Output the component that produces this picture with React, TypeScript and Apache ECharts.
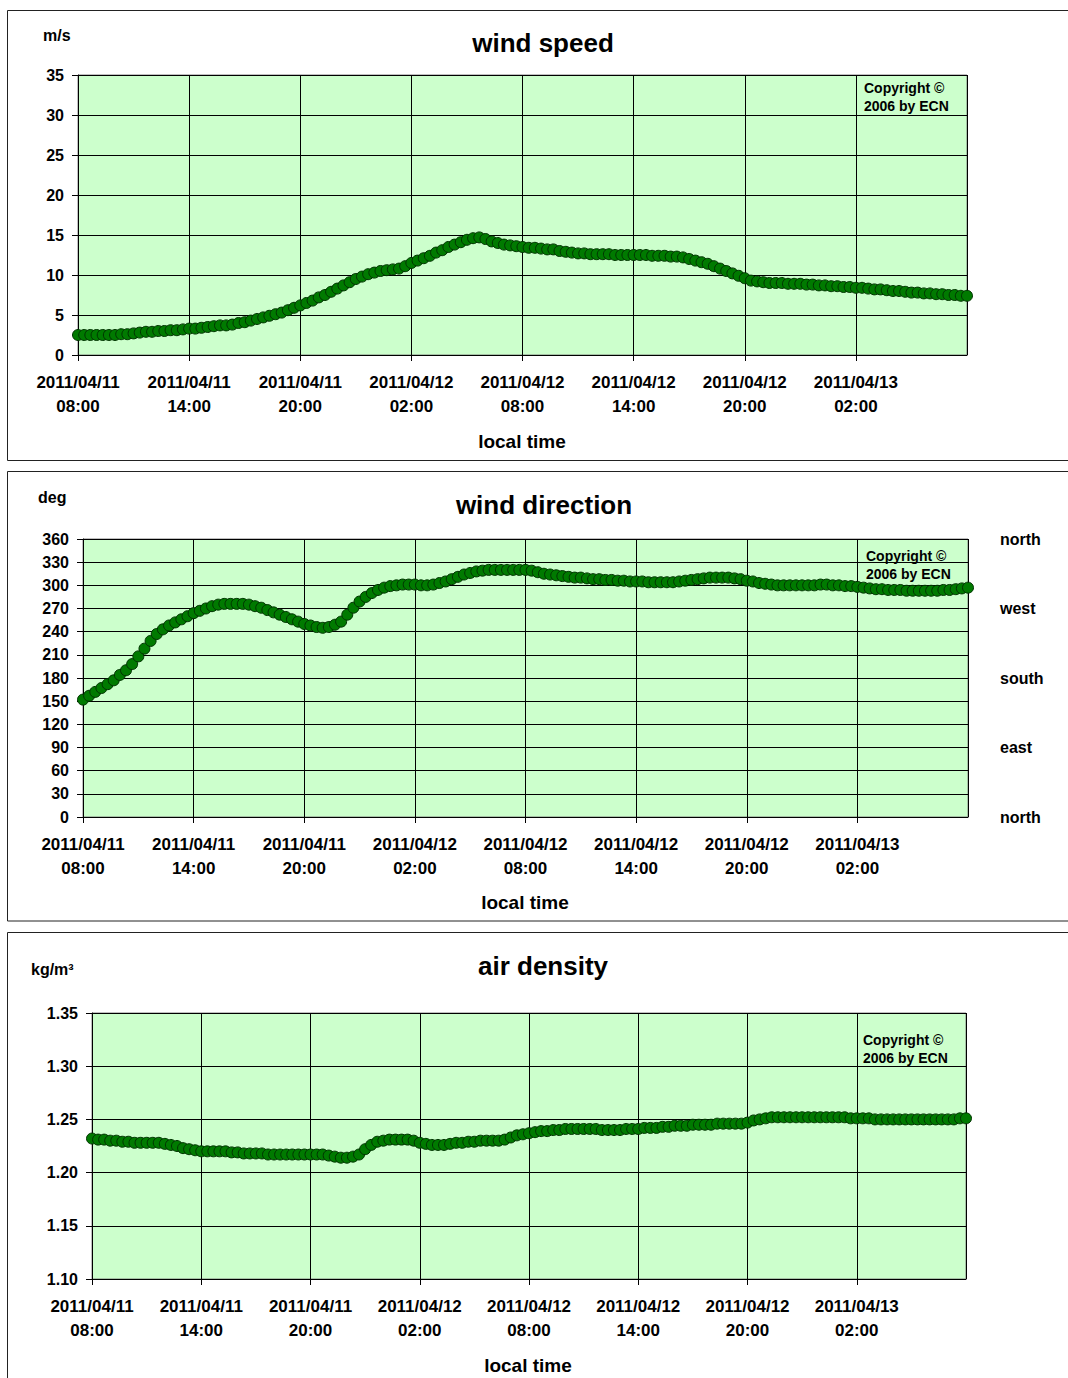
import React, { useEffect, useRef } from "react";
import * as echarts from "echarts";

// time axis: 2011/04/11 08:00 .. 2011/04/13 08:00, hours since start, samples every 20 minutes
const STEP_HOURS = 1 / 3;
const timeTickLabels = [
  "2011/04/11\n08:00",
  "2011/04/11\n14:00",
  "2011/04/11\n20:00",
  "2011/04/12\n02:00",
  "2011/04/12\n08:00",
  "2011/04/12\n14:00",
  "2011/04/12\n20:00",
  "2011/04/13\n02:00",
];

// wind speed, m/s
const windSpeed = [
  2.5, 2.5, 2.5,
  2.5, 2.5, 2.5,
  2.5, 2.6, 2.6,
  2.7, 2.8, 2.9,
  2.9, 3.0, 3.0,
  3.1, 3.1, 3.2,
  3.3, 3.3, 3.4,
  3.5, 3.6, 3.7,
  3.7, 3.8, 4.0,
  4.1, 4.3, 4.5,
  4.7, 4.9, 5.1,
  5.3, 5.6, 5.9,
  6.2, 6.5, 6.8,
  7.2, 7.5, 7.9,
  8.3, 8.7, 9.1,
  9.5, 9.8, 10.1,
  10.3, 10.5, 10.6,
  10.7, 10.8, 11.1,
  11.5, 11.8, 12.1,
  12.4, 12.8, 13.1,
  13.5, 13.8, 14.1,
  14.4, 14.6, 14.7,
  14.5, 14.2, 14.0,
  13.8, 13.7, 13.6,
  13.5, 13.4, 13.4,
  13.3, 13.2, 13.2,
  13.0, 12.9, 12.8,
  12.7, 12.7, 12.6,
  12.6, 12.6, 12.6,
  12.5, 12.5, 12.5,
  12.5, 12.5, 12.5,
  12.4, 12.4, 12.4,
  12.3, 12.3, 12.2,
  12.0, 11.8, 11.6,
  11.4, 11.1, 10.8,
  10.5, 10.2, 9.9,
  9.6, 9.3, 9.2,
  9.1, 9.0, 9.0,
  9.0, 8.9, 8.9,
  8.9, 8.8, 8.8,
  8.7, 8.7, 8.6,
  8.6, 8.5, 8.5,
  8.4, 8.4, 8.3,
  8.2, 8.2, 8.1,
  8.0, 8.0, 7.9,
  7.8, 7.8, 7.7,
  7.7, 7.6, 7.6,
  7.5, 7.5, 7.4,
  7.4,
];

// wind direction, deg
const windDirection = [
  152, 157, 162,
  167, 172, 177,
  184, 190, 198,
  208, 218, 228,
  237, 243, 248,
  252, 256, 260,
  264, 267, 270,
  273, 275, 276,
  276, 276, 276,
  275, 273, 271,
  268, 265, 262,
  259, 256, 253,
  250, 248, 246,
  245, 246, 249,
  253, 262, 271,
  279, 285, 290,
  294, 297, 299,
  300, 301, 301,
  301, 300, 300,
  301, 303, 305,
  308, 311, 314,
  316, 318, 319,
  320, 320, 320,
  320, 320, 320,
  320, 319, 317,
  315, 314, 313,
  312, 311, 310,
  310, 309, 308,
  308, 307, 307,
  306, 306, 305,
  305, 305, 304,
  304, 304, 304,
  304, 305, 306,
  307, 308, 309,
  310, 310, 310,
  310, 309, 308,
  306, 305, 303,
  302, 301, 300,
  300, 300, 300,
  300, 300, 300,
  301, 301, 300,
  300, 299, 299,
  298, 297, 296,
  295, 295, 294,
  294, 294, 293,
  293, 293, 293,
  293, 293, 294,
  294, 295, 296,
  297,
];

// air density, kg/m3
const airDensity = [
  1.232, 1.231, 1.231,
  1.230, 1.230, 1.229,
  1.229, 1.228, 1.228,
  1.228, 1.228, 1.228,
  1.227, 1.226, 1.225,
  1.223, 1.222, 1.221,
  1.220, 1.220, 1.220,
  1.220, 1.220, 1.219,
  1.219, 1.218, 1.218,
  1.218, 1.218, 1.217,
  1.217, 1.217, 1.217,
  1.217, 1.217, 1.217,
  1.217, 1.217, 1.217,
  1.216, 1.215, 1.214,
  1.214, 1.215, 1.217,
  1.222, 1.226, 1.229,
  1.230, 1.231, 1.231,
  1.231, 1.231, 1.230,
  1.228, 1.227, 1.226,
  1.226, 1.226, 1.227,
  1.228, 1.228, 1.229,
  1.229, 1.230, 1.230,
  1.230, 1.230, 1.231,
  1.233, 1.235, 1.236,
  1.237, 1.238, 1.239,
  1.239, 1.240, 1.240,
  1.241, 1.241, 1.241,
  1.241, 1.241, 1.241,
  1.240, 1.240, 1.240,
  1.240, 1.241, 1.241,
  1.241, 1.242, 1.242,
  1.242, 1.243, 1.243,
  1.244, 1.244, 1.244,
  1.245, 1.245, 1.245,
  1.245, 1.246, 1.246,
  1.246, 1.246, 1.246,
  1.247, 1.249, 1.250,
  1.251, 1.252, 1.252,
  1.252, 1.252, 1.252,
  1.252, 1.252, 1.252,
  1.252, 1.252, 1.252,
  1.252, 1.252, 1.251,
  1.251, 1.251, 1.251,
  1.250, 1.250, 1.250,
  1.250, 1.250, 1.250,
  1.250, 1.250, 1.250,
  1.250, 1.250, 1.250,
  1.250, 1.250, 1.251,
  1.251,
];

const directionNames: Record<number, string> = {
  0: "north",
  90: "east",
  180: "south",
  270: "west",
  360: "north",
};

const FONT = "'Liberation Sans', Arial, Helvetica, sans-serif";

const toPoints = (arr: number[]) => arr.map((v, i) => [i * STEP_HOURS, v]);

export default function App() {
  const ref = useRef<HTMLDivElement>(null);

  useEffect(() => {
    if (!ref.current) return;
    const chart = echarts.init(ref.current, undefined, { renderer: "svg" });

    const gridBase = {
      show: true,
      backgroundColor: "#CCFFCC",
      borderColor: "#808080",
      borderWidth: 1,
      containLabel: false,
    };

    const xAxisBase = (gridIndex: number) => ({
      type: "value" as const,
      gridIndex,
      min: 0,
      max: 48,
      interval: 6,
      axisLine: { show: true, onZero: false, lineStyle: { color: "#000", width: 1 } },
      axisTick: { show: true, length: 6, inside: false, lineStyle: { color: "#000" } },
      splitLine: { show: true, lineStyle: { color: "#000", width: 1 } },
      axisLabel: {
        show: true,
        margin: 15,
        color: "#000",
        fontFamily: FONT,
        fontWeight: "bold",
        fontSize: 17,
        lineHeight: 24,
        showMaxLabel: false,
        formatter: (v: number) => timeTickLabels[Math.round(v / 6)] ?? "",
      },
    });

    const yLabel = (margin: number, fmt?: (v: number) => string) => ({
      show: true,
      margin,
      color: "#000",
      fontFamily: FONT,
      fontWeight: "bold",
      fontSize: 16,
      formatter: fmt,
    });

    const yAxisBase = {
      type: "value" as const,
      axisLine: { show: true, lineStyle: { color: "#000", width: 1 } },
      axisTick: { show: true, length: 6, lineStyle: { color: "#000" } },
      splitLine: { show: true, lineStyle: { color: "#000", width: 1 } },
    };

    const scatterBase = {
      type: "scatter" as const,
      symbol: "circle",
      symbolSize: 11,
      clip: false,
      itemStyle: { color: "#007A00", borderColor: "#003300", borderWidth: 1, opacity: 1 },
      emphasis: { disabled: true },
    };

    const titleText = (text: string, x: number, y: number) => ({
      type: "text",
      x,
      y,
      z: 100,
      style: {
        text,
        fill: "#000",
        font: `bold 26px ${FONT}`,
        textAlign: "center",
        textVerticalAlign: "middle",
      },
    });
    const smallText = (text: string, x: number, y: number, size: number, align = "left") => ({
      type: "text",
      x,
      y,
      z: 100,
      style: {
        text,
        fill: "#000",
        font: `bold ${size}px ${FONT}`,
        textAlign: align,
        textVerticalAlign: "middle",
      },
    });
    const copyright = (x: number, y: number) => ({
      type: "text",
      x,
      y,
      z: 100,
      style: {
        text: "Copyright ©\n2006 by ECN",
        fill: "#000",
        font: `bold 14px ${FONT}`,
        lineHeight: 18,
        textAlign: "left",
        textVerticalAlign: "top",
      },
    });
    const panel = (y: number, h: number) => ({
      type: "rect",
      z: 0,
      shape: { x: 7.5, y, width: 1070, height: h },
      style: { fill: "none", stroke: "#222", lineWidth: 1 },
    });

    chart.setOption({
      animation: false,
      backgroundColor: "#fff",
      grid: [
        { ...gridBase, left: 78, top: 75, width: 889, height: 280 },
        { ...gridBase, left: 83, top: 539, width: 885, height: 278 },
        { ...gridBase, left: 92, top: 1013, width: 874, height: 266 },
      ],
      xAxis: [xAxisBase(0), xAxisBase(1), xAxisBase(2)],
      yAxis: [
        {
          ...yAxisBase,
          gridIndex: 0,
          min: 0,
          max: 35,
          interval: 5,
          axisLabel: yLabel(14),
        },
        {
          ...yAxisBase,
          gridIndex: 1,
          min: 0,
          max: 360,
          interval: 30,
          axisLabel: yLabel(14),
        },
        {
          type: "value",
          gridIndex: 1,
          position: "right",
          min: 0,
          max: 360,
          interval: 90,
          axisLine: { show: false },
          axisTick: { show: false },
          splitLine: { show: false },
          axisLabel: {
            ...yLabel(32, (v: number) => directionNames[Math.round(v)] ?? ""),
            align: "left",
          },
        },
        {
          ...yAxisBase,
          gridIndex: 2,
          min: 1.1,
          max: 1.35,
          interval: 0.05,
          axisLabel: yLabel(14, (v: number) => v.toFixed(2)),
        },
      ],
      series: [
        { ...scatterBase, name: "wind speed", xAxisIndex: 0, yAxisIndex: 0, data: toPoints(windSpeed) },
        { ...scatterBase, name: "wind direction", xAxisIndex: 1, yAxisIndex: 1, data: toPoints(windDirection) },
        { ...scatterBase, name: "air density", xAxisIndex: 2, yAxisIndex: 3, data: toPoints(airDensity) },
      ],
      graphic: [
        panel(10.5, 450),
        panel(471.5, 449.5),
        panel(932.5, 460),
        titleText("wind speed", 543, 43),
        titleText("wind direction", 544, 505),
        titleText("air density", 543, 966),
        smallText("m/s", 43, 35, 16),
        smallText("deg", 38, 497, 16),
        smallText("kg/m³", 31, 969, 16),
        smallText("local time", 522, 441, 19, "center"),
        smallText("local time", 525, 902, 19, "center"),
        smallText("local time", 528, 1365, 19, "center"),
        copyright(864, 79),
        copyright(866, 547),
        copyright(863, 1031),
      ],
    });

    return () => chart.dispose();
  }, []);

  return (
    <div
      ref={ref}
      style={{ position: "absolute", left: 0, top: 0, width: 1068, height: 1378 }}
    />
  );
}
